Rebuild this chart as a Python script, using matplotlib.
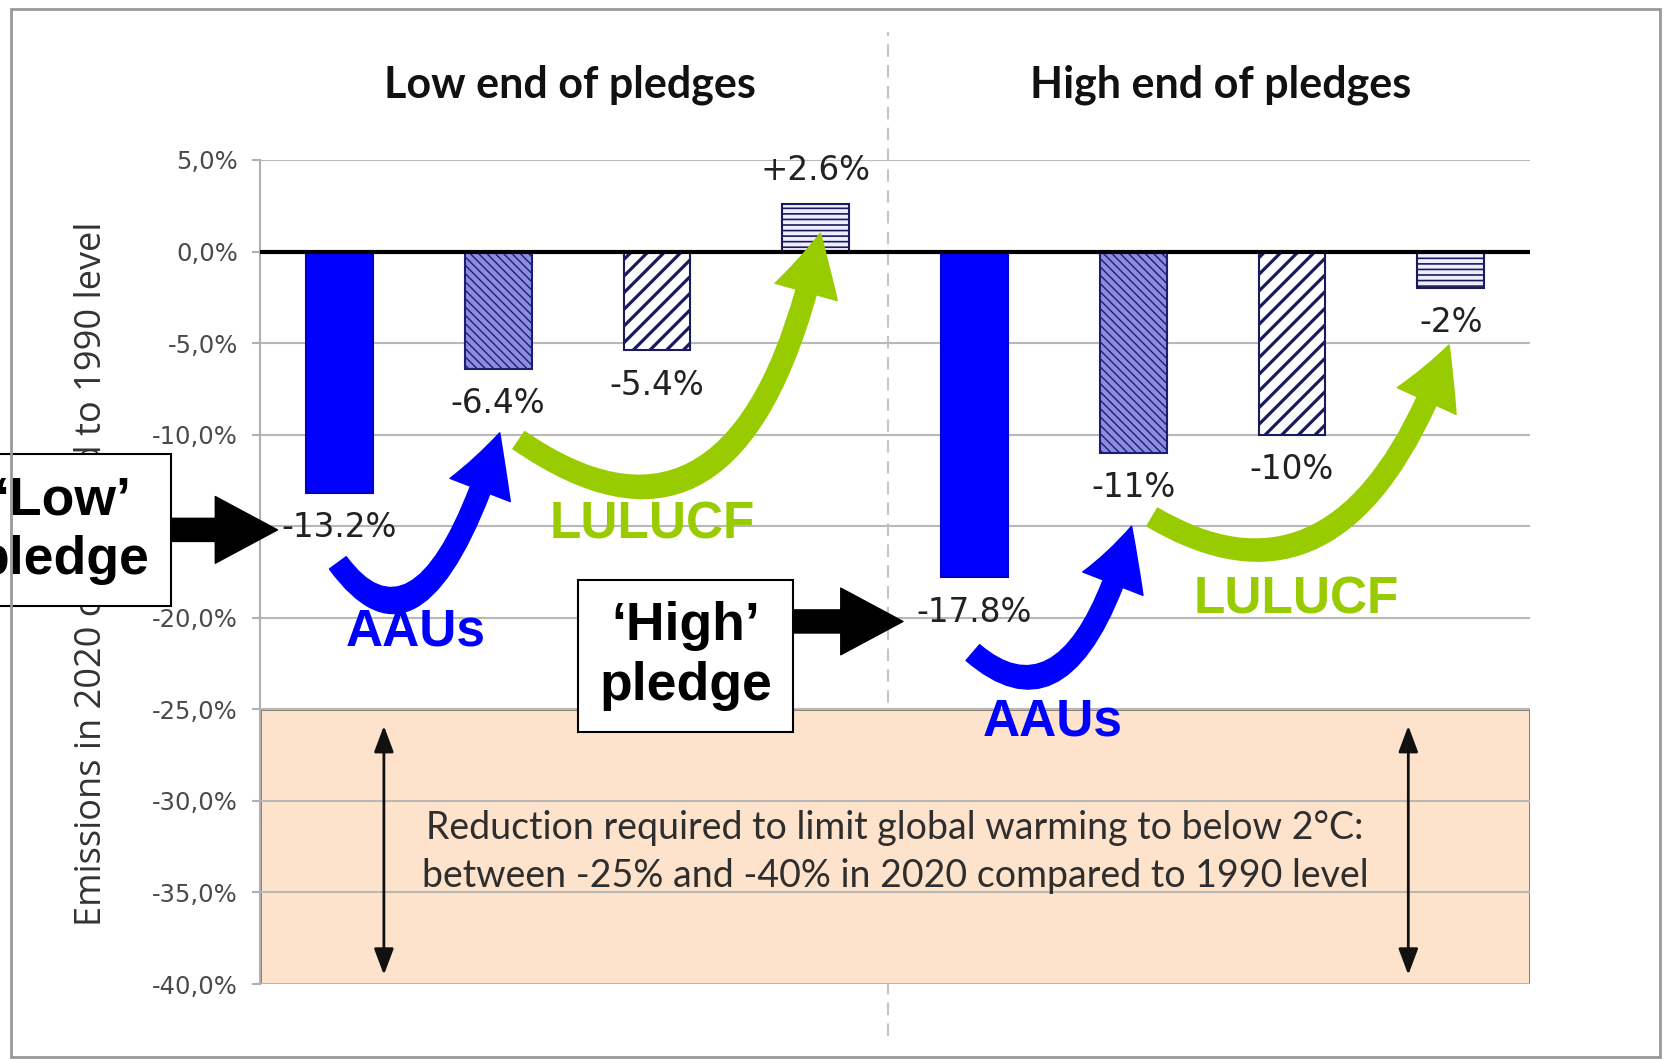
import matplotlib
matplotlib.use("Agg")
import matplotlib.pyplot as plt
from matplotlib.patches import FancyArrowPatch, Rectangle
from matplotlib.path import Path
from matplotlib.lines import Line2D

# data
groups = ["Low end of pledges", "High end of pledges"]
values = [-13.2, -6.4, -5.4, 2.6, -17.8, -11, -10, -2]
value_labels = ["-13.2%", "-6.4%", "-5.4%", "+2.6%", "-17.8%", "-11%", "-10%", "-2%"]
yticks = [5, 0, -5, -10, -15, -20, -25, -30, -35, -40]
target_low, target_high = -25, -40

# bar styles, same order in both groups
face = ["#0000ff", "#8c8ce2", "white", "#eeeeff"]
edge = ["#0000c8", "#1e1e70", "#1a1a5e", "#1a1a5e"]
hatches = [None, "\\\\\\\\", "//", "---"]
hatch_lw = [1.0, 1.0, 2.3, 1.2]

fig = plt.figure(figsize=(16.66, 10.63), dpi=100)
ax = fig.add_axes([0.1561, 0.0743, 0.7623, 0.7752])
ax.set_facecolor("none")

x = [i + 0.5 for i in range(len(values))]
bars = ax.bar(x, values, width=0.42, zorder=3, linewidth=1.5)
for i, b in enumerate(bars):
    k = i % 4
    b.set_facecolor(face[k])
    b.set_edgecolor(edge[k])
    if hatches[k]:
        b.set_hatch(hatches[k])
        if hasattr(b, "set_hatch_linewidth"):
            b.set_hatch_linewidth(hatch_lw[k])
if not hasattr(bars[0], "set_hatch_linewidth"):
    plt.rcParams["hatch.linewidth"] = 1.6

# value labels
for xi, v, lab in zip(x, values, value_labels):
    off = 24 if v > 0 else -25
    ax.annotate(lab, (xi, v), xytext=(0, off), textcoords="offset points",
                ha="center", va="center", fontsize=23.5, color="#222222",
                family="DejaVu Sans", zorder=6)

ax.set_xlim(0, 8)
ax.set_ylim(target_high, 5)
ax.set_xticks([])
ax.set_yticks(yticks)
ax.set_yticklabels([f"{t:.1f}%".replace(".", ",") for t in yticks])
ax.tick_params(axis="y", length=6, width=1.5, color="#b0b0b0", labelsize=17.5,
               labelcolor="#4a4a4a", pad=10)
ax.grid(axis="y", color="#b8b8b8", linewidth=1.5, zorder=0)
ax.axhline(0, color="black", linewidth=3, zorder=4)
for s in ["top", "right", "bottom"]:
    ax.spines[s].set_visible(False)
ax.spines["left"].set_color("#b0b0b0")
ax.spines["left"].set_linewidth(1.5)

ax.set_ylabel("Emissions in 2020 compared to 1990 level", fontsize=26,
              color="#333333", family="Open Sans")
ax.yaxis.set_label_coords(-0.118, 0.498)

# target zone
ax.add_patch(Rectangle((0, target_high), 8, target_low - target_high,
                       facecolor="#fde3cb", edgecolor="#7d7468", linewidth=2,
                       zorder=1))
for xa in [0.78, 7.233]:
    ax.annotate("", xy=(xa, -25.9), xytext=(xa, -39.5),
                arrowprops=dict(arrowstyle="<|-|>,head_length=0.8,head_width=0.3",
                                mutation_scale=20, lw=2, color="#111111",
                                shrinkA=0, shrinkB=0), zorder=5)
ax.text(4.0, -32.8, "Reduction required to limit global warming to below 2°C:\n"
        "between -25% and -40% in 2020 compared to 1990 level",
        ha="center", va="center", fontsize=27, color="#2e2e2e",
        family="Lato", linespacing=1.4, zorder=5)

# group titles
for gx, g in zip([1.95, 6.05], groups):
    ax.text(gx, 9.1, g, ha="center", va="center", fontsize=31,
            fontweight="bold", family="Lato", color="#111111", clip_on=False)

# curved arrows (quadratic curves, data coords)
curves = [
    ([(0.49, -17.0), (1.03, -23.4), (1.51, -9.9)], "#0000ff"),
    ([(1.63, -10.3), (3.05, -18.8), (3.53, 1.0)], "#99cc00"),
    ([(4.49, -21.9), (5.12, -26.6), (5.49, -15.0)], "#0000ff"),
    ([(5.62, -14.5), (6.85, -20.8), (7.49, -5.1)], "#99cc00"),
]
for pts, col in curves:
    p = Path(pts, [Path.MOVETO, Path.CURVE3, Path.CURVE3])
    ax.add_patch(FancyArrowPatch(
        path=p, arrowstyle="simple,head_length=1.45,head_width=1.55,tail_width=0.5",
        mutation_scale=30, color=col, zorder=7, clip_on=False))

word_kw = dict(ha="center", va="center", fontsize=37, fontweight="bold",
               family="Liberation Sans", zorder=8, clip_on=False)
ax.text(0.98, -20.8, "AAUs", color="#0000ff", **word_kw)
ax.text(2.47, -14.95, "LULUCF", color="#99cc00", **word_kw)
ax.text(4.99, -25.7, "AAUs", color="#0000ff", **word_kw)
ax.text(6.53, -19.05, "LULUCF", color="#99cc00", **word_kw)

# pledge boxes with block arrows
box_kw = dict(ha="center", va="center", fontsize=38.5, fontweight="bold",
              family="Liberation Sans", linespacing=1.25, zorder=9, clip_on=False,
              bbox=dict(boxstyle="square,pad=0.4", fc="white", ec="black", lw=1.5))
ax.text(-1.24, -15.2, "\u2018Low\u2019\npledge", **box_kw)
ax.text(2.68, -22.1, "\u2018High\u2019\npledge", **box_kw)
arrow_kw = dict(arrowstyle="simple,head_length=1.4,head_width=1.5,tail_width=0.52",
                mutation_scale=32, color="black", shrinkA=0, shrinkB=0)
ax.annotate("", xy=(0.11, -15.2), xytext=(-0.6, -15.2), arrowprops=arrow_kw,
            zorder=8, annotation_clip=False)
ax.annotate("", xy=(4.05, -20.2), xytext=(3.3, -20.2), arrowprops=arrow_kw,
            zorder=8, annotation_clip=False)

# separator and outer frame
fig.add_artist(Line2D([0.5328, 0.5328], [0.025, 0.97], transform=fig.transFigure,
                      color="#c4c4c4", lw=1.5, dashes=(6, 4), zorder=-1))
fig.add_artist(Rectangle((0.0066, 0.006), 0.9898, 0.9855, transform=fig.transFigure,
                         fill=False, ec="#999999", lw=2))

fig.savefig("out.png", dpi=100)
